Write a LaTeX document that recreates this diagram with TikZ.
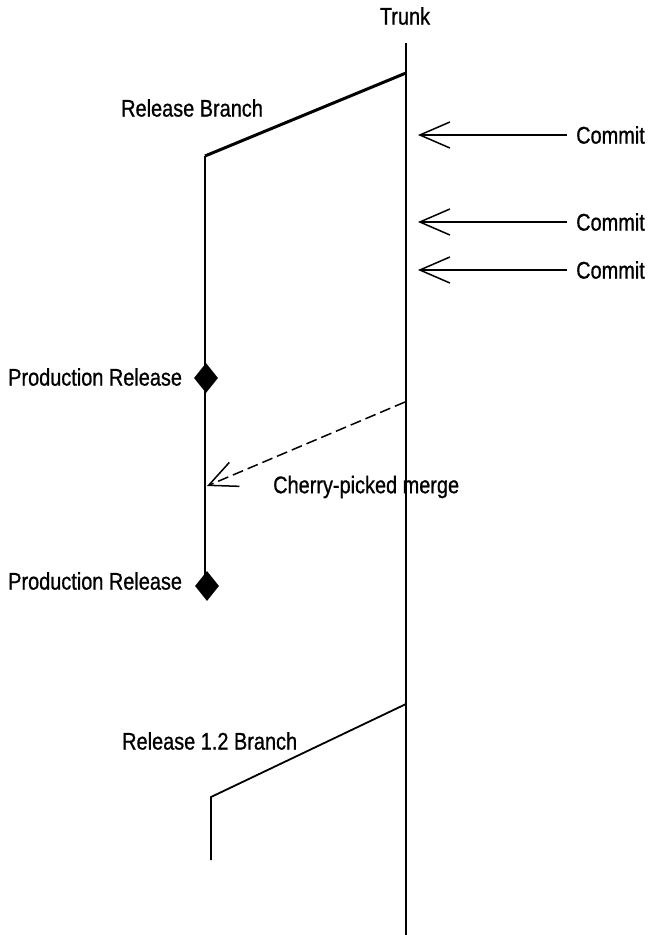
\documentclass[tikz,border=0pt]{standalone}
\usepackage{fontspec}
\setmainfont{Liberation Sans}[FakeStretch=0.83,FakeBold=0.8]
\usetikzlibrary{arrows.meta,shapes.geometric}
\begin{document}
\begin{tikzpicture}[x=1pt,y=-1pt,
  lbl/.style={inner sep=0pt,font=\fontsize{24}{28}\selectfont,anchor=west},
  branchline/.style={line width=1.8pt},
  commitarrow/.style={line width=1.5pt,-{Straight Barb[length=30pt,width=26pt,line width=1.5pt]}},
  merge/.style={line width=1.5pt,dash pattern=on 11pt off 5pt,-{Straight Barb[length=28pt,width=26pt,line width=1.5pt]}},
  release/.style={diamond,fill=black,inner sep=0pt,minimum width=24pt,minimum height=30pt}]
\fill[white] (0,0) rectangle (648,935);
\useasboundingbox (0,0) rectangle (648,935);
% trunk
\node[lbl,anchor=center] (trunklbl) at (405,16) {Trunk};
\coordinate (ttop) at (406,43);
\coordinate (tbot) at (406,935);
\draw[line width=1.8pt] (ttop) -- (tbot);
% release branch
\coordinate (rb0) at (406,73);
\coordinate (rb1) at (205,156);
\coordinate (rb2) at (205,586);
\draw[line width=3pt] (rb0) -- (rb1);
\draw[branchline] (rb1) -- (rb2);
\node[lbl] (rblbl) at (121,108) {Release Branch};
% production releases
\node[release] (pr1) at (206,378) {};
\node[release] (pr2) at (207,586) {};
\node[lbl] (pr1lbl) at (8,377) {Production Release};
\node[lbl] (pr2lbl) at (8,581) {Production Release};
% commits
\node[lbl] (c1) at (576,135) {Commit};
\node[lbl] (c2) at (576,222) {Commit};
\node[lbl] (c3) at (576,270) {Commit};
\coordinate (c1t) at (418,135);
\coordinate (c2t) at (418,222);
\coordinate (c3t) at (418,270);
\draw[commitarrow] (c1.west) ++(-9,0) -- (c1t);
\draw[commitarrow] (c2.west) ++(-9,0) -- (c2t);
\draw[commitarrow] (c3.west) ++(-9,0) -- (c3t);
% cherry-picked merge
\coordinate (m0) at (405,402);
\coordinate (m1) at (207,486);
\draw[merge] (m0) -- (m1);
\node[lbl] (mlbl) at (273,487) {Cherry-picked merge};
% release 1.2 branch
\coordinate (r0) at (406,704);
\coordinate (r1) at (211,797);
\coordinate (r2) at (211,860);
\draw[branchline] (r0) -- (r1) -- (r2);
\node[lbl] (r12lbl) at (122,741) {Release 1.2 Branch};
\end{tikzpicture}
\end{document}
